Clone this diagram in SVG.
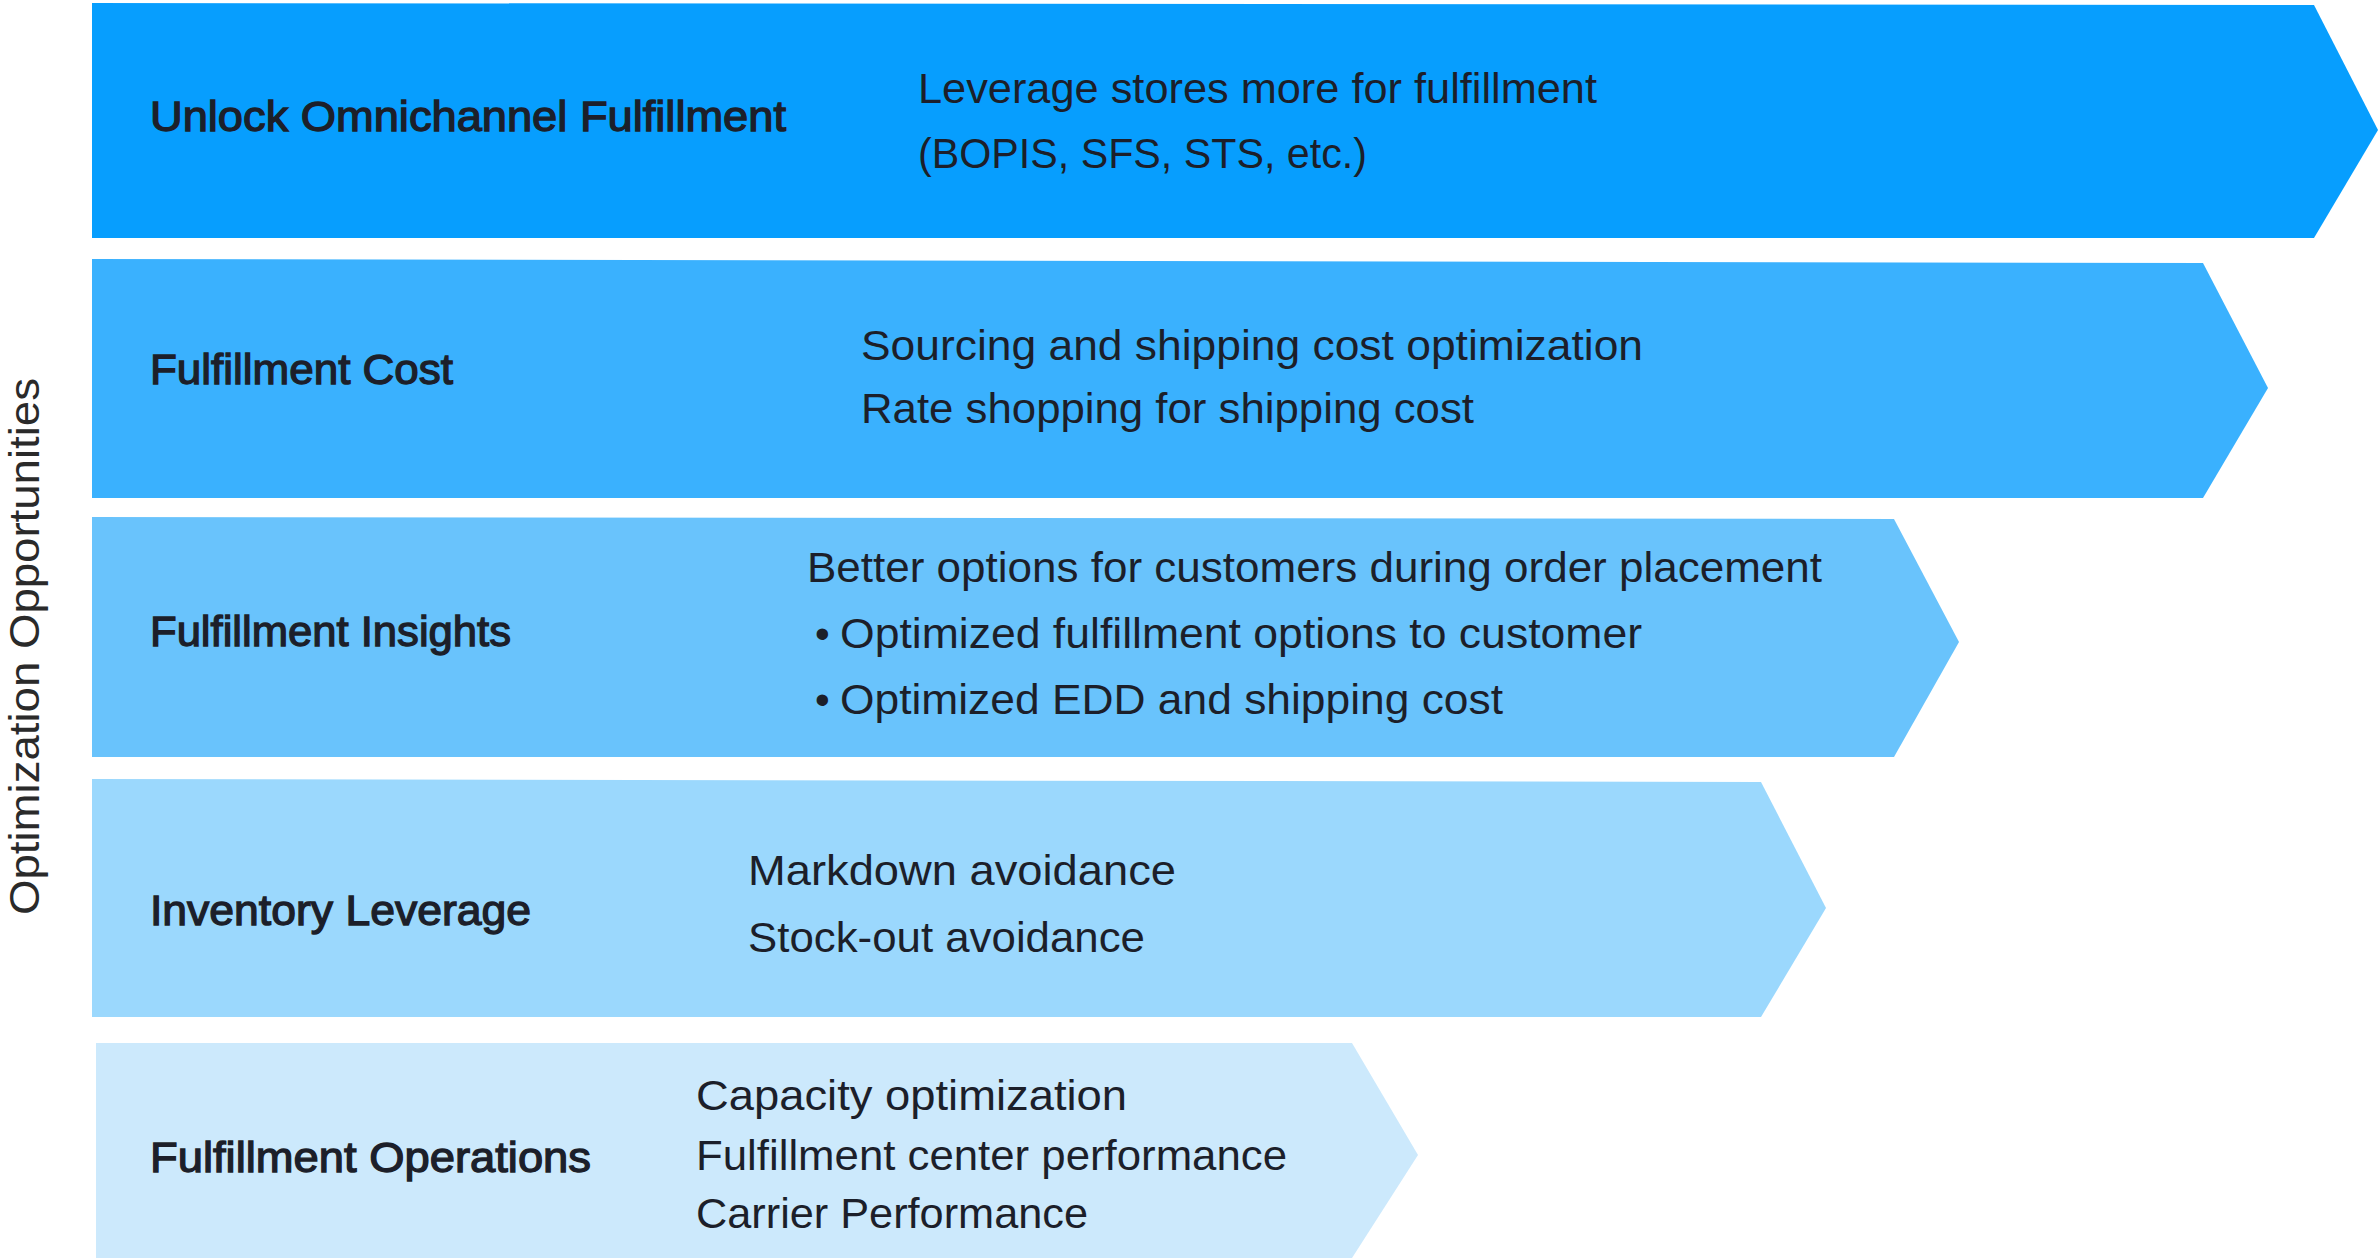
<svg xmlns="http://www.w3.org/2000/svg" width="2380" height="1258" viewBox="0 0 2380 1258">
<style>
text{font-family:"Liberation Sans",Arial,sans-serif;fill:#1c1f2a;font-size:42px}
.lbl{stroke:#1c1f2a;stroke-width:1.3px}
.vt{font-size:43px;fill:#2a2a2a}
</style>
<rect width="2380" height="1258" fill="#ffffff"/>
<text class="vt" transform="translate(39,915) rotate(-90)" x="0" y="0" textLength="537" lengthAdjust="spacingAndGlyphs">Optimization Opportunities</text>
<g id="n1">
<polygon points="92,3 2314,5 2378,130 2314,238 92,238" fill="#079efe"/>
<text class="lbl" x="150" y="131" textLength="636" lengthAdjust="spacingAndGlyphs">Unlock Omnichannel Fulfillment</text>
<text x="918" y="103" textLength="679" lengthAdjust="spacingAndGlyphs">Leverage stores more for fulfillment</text>
<text x="918" y="168" textLength="449" lengthAdjust="spacingAndGlyphs">(BOPIS, SFS, STS, etc.)</text>
</g>
<g id="n2">
<polygon points="92,259 2203,263 2268,388 2203,498 92,498" fill="#3ab1fe"/>
<text class="lbl" x="150" y="384" textLength="303" lengthAdjust="spacingAndGlyphs">Fulfillment Cost</text>
<text x="861" y="360" textLength="782" lengthAdjust="spacingAndGlyphs">Sourcing and shipping cost optimization</text>
<text x="861" y="423" textLength="613" lengthAdjust="spacingAndGlyphs">Rate shopping for shipping cost</text>
</g>
<g id="n3">
<polygon points="92,517 1894,519 1959,642 1894,757 92,757" fill="#69c3fc"/>
<text class="lbl" x="150" y="646" textLength="361" lengthAdjust="spacingAndGlyphs">Fulfillment Insights</text>
<text x="807" y="582" textLength="1015" lengthAdjust="spacingAndGlyphs">Better options for customers during order placement</text>
<text x="815" y="648">•</text>
<text x="840" y="648" textLength="802" lengthAdjust="spacingAndGlyphs">Optimized fulfillment options to customer</text>
<text x="815" y="714">•</text>
<text x="840" y="714" textLength="663" lengthAdjust="spacingAndGlyphs">Optimized EDD and shipping cost</text>
</g>
<g id="n4">
<polygon points="92,779 1761,782 1826,908 1761,1017 92,1017" fill="#9bd8fd"/>
<text class="lbl" x="150" y="925" textLength="381" lengthAdjust="spacingAndGlyphs">Inventory Leverage</text>
<text x="748" y="885" textLength="428" lengthAdjust="spacingAndGlyphs">Markdown avoidance</text>
<text x="748" y="952" textLength="397" lengthAdjust="spacingAndGlyphs">Stock-out avoidance</text>
</g>
<g id="n5">
<polygon points="96,1043 1352,1043 1418,1155 1352,1258 96,1258" fill="#cce9fc"/>
<text class="lbl" x="150" y="1172" textLength="441" lengthAdjust="spacingAndGlyphs">Fulfillment Operations</text>
<text x="696" y="1110" textLength="431" lengthAdjust="spacingAndGlyphs">Capacity optimization</text>
<text x="696" y="1170" textLength="591" lengthAdjust="spacingAndGlyphs">Fulfillment center performance</text>
<text x="696" y="1228" textLength="392" lengthAdjust="spacingAndGlyphs">Carrier Performance</text>
</g>
<g id="connectors"/>
</svg>
